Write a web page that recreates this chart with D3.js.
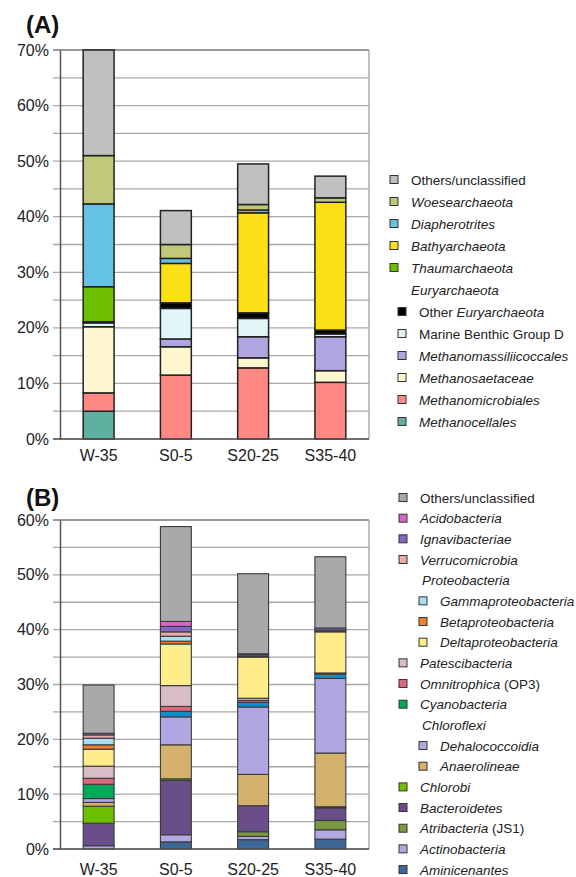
<!DOCTYPE html>
<html>
<head>
<meta charset="utf-8">
<script src="https://cdn.jsdelivr.net/npm/d3@7"></script>
<style>
  body { margin: 0; background: #fff; }
  svg { font-family: "Liberation Sans", Arial, sans-serif; }
</style>
</head>
<body>
<div id="chart"></div>
<script>
'use strict';

// samples (x categories), shared by both panels
var samples = ['W-35', 'S0-5', 'S20-25', 'S35-40'];

// (A) archaea, relative abundance in %, bottom to top
var methanocellales     = [5.0, 0, 0, 0];
var methanomicrobiales  = [3.3, 11.5, 12.8, 10.2];
var methanosaetaceae    = [11.9, 5.1, 1.8, 2.1];
var methanomassilii     = [0, 1.4, 3.8, 6.1];
var marineBenthicD      = [0.7, 5.5, 3.3, 0.5];
var otherEuryarchaeota  = [0.2, 1.0, 1.0, 0.7];
var thaumarchaeota      = [6.3, 0, 0, 0];
var bathyarchaeota      = [0, 7.1, 18.0, 23.0];
var diapherotrites      = [14.9, 0.9, 0.5, 0];
var woesearchaeota      = [8.7, 2.5, 1.0, 0.8];
var othersArchaea       = [19.0, 6.1, 7.3, 3.9];

// (B) bacteria, relative abundance in %, bottom to top
var aminicenantes       = [0, 1.3, 1.7, 1.8];
var actinobacteria      = [0.6, 1.3, 0.6, 1.7];
var atribacteria        = [0, 0, 0.85, 1.7];
var bacteroidetes       = [4.1, 9.9, 4.75, 2.3];
var chlorobi            = [3.1, 0.3, 0, 0.2];
var anaerolineae        = [0.7, 6.2, 5.7, 9.8];
var dehalococcoidia     = [0.7, 5.1, 12.3, 13.6];
var cyanobacteria       = [2.6, 0, 0, 0];
var unlistedBlue        = [0, 1.0, 0.85, 0.8];
var omnitrophica        = [1.1, 0.9, 0.35, 0.2];
var patescibacteria     = [2.2, 3.8, 0.4, 0];
var deltaproteo         = [3.1, 7.6, 7.5, 7.5];
var betaproteo          = [0.8, 0.5, 0, 0];
var gammaproteo         = [1.2, 0.9, 0, 0.1];
var verrucomicrobia     = [0.6, 0.8, 0.2, 0.2];
var ignavibacteriae     = [0.3, 1.0, 0.3, 0.4];
var acidobacteria       = [0, 0.9, 0.1, 0];
var othersBacteria      = [8.8, 17.3, 14.6, 13.0];

var yTicksA = d3.range(0, 71, 5);
var yTicksB = d3.range(0, 61, 5);

// series tables: key, values, fill
var archaea = [
  ['Methanocellales', methanocellales, '#5fb0a0'],
  ['Methanomicrobiales', methanomicrobiales, '#ff8882'],
  ['Methanosaetaceae', methanosaetaceae, '#fff7d0'],
  ['Methanomassiliicoccales', methanomassilii, '#b2a6e2'],
  ['Marine Benthic Group D', marineBenthicD, '#e2f6f8'],
  ['Other Euryarchaeota', otherEuryarchaeota, '#000000'],
  ['Thaumarchaeota', thaumarchaeota, '#6cc000'],
  ['Bathyarchaeota', bathyarchaeota, '#fce016'],
  ['Diapherotrites', diapherotrites, '#66c2e4'],
  ['Woesearchaeota', woesearchaeota, '#c0c87a'],
  ['Others/unclassified', othersArchaea, '#c0c0c0']
];

var bacteria = [
  ['Aminicenantes', aminicenantes, '#3c6898'],
  ['Actinobacteria', actinobacteria, '#b4a8e2'],
  ['Atribacteria', atribacteria, '#7a9a42'],
  ['Bacteroidetes', bacteroidetes, '#6a4e8a'],
  ['Chlorobi', chlorobi, '#6cc000'],
  ['Anaerolineae', anaerolineae, '#d4b26c'],
  ['Dehalococcoidia', dehalococcoidia, '#b2a6e2'],
  ['Cyanobacteria', cyanobacteria, '#00a85a'],
  ['unlisted', unlistedBlue, '#0a90d0'],
  ['Omnitrophica', omnitrophica, '#d86a7c'],
  ['Patescibacteria', patescibacteria, '#d8bcc8'],
  ['Deltaproteobacteria', deltaproteo, '#ffec8a'],
  ['Betaproteobacteria', betaproteo, '#f08032'],
  ['Gammaproteobacteria', gammaproteo, '#aadcf0'],
  ['Verrucomicrobia', verrucomicrobia, '#e8aaaa'],
  ['Ignavibacteriae', ignavibacteriae, '#8266c4'],
  ['Acidobacteria', acidobacteria, '#d866c4'],
  ['Others/unclassified', othersBacteria, '#a9a9a9']
];

// legend rows, top to bottom: [segments, fill or null for a header, indent]
// a segment is [text, italic]
var legendA = [
  [[['Others/unclassified', 0]], '#c0c0c0', 0],
  [[['Woesearchaeota', 1]], '#c0c87a', 0],
  [[['Diapherotrites', 1]], '#66c2e4', 0],
  [[['Bathyarchaeota', 1]], '#fce016', 0],
  [[['Thaumarchaeota', 1]], '#6cc000', 0],
  [[['Euryarchaeota', 1]], null, 0],
  [[['Other ', 0], ['Euryarchaeota', 1]], '#000000', 1],
  [[['Marine Benthic Group D', 0]], '#e2f6f8', 1],
  [[['Methanomassiliicoccales', 1]], '#b2a6e2', 1],
  [[['Methanosaetaceae', 1]], '#fff7d0', 1],
  [[['Methanomicrobiales', 1]], '#ff8882', 1],
  [[['Methanocellales', 1]], '#5fb0a0', 1]
];

var legendB = [
  [[['Others/unclassified', 0]], '#a9a9a9', 0],
  [[['Acidobacteria', 1]], '#d866c4', 0],
  [[['Ignavibacteriae', 1]], '#8266c4', 0],
  [[['Verrucomicrobia', 1]], '#e8aaaa', 0],
  [[['Proteobacteria', 1]], null, 0],
  [[['Gammaproteobacteria', 1]], '#aadcf0', 1],
  [[['Betaproteobacteria', 1]], '#f08032', 1],
  [[['Deltaproteobacteria', 1]], '#ffec8a', 1],
  [[['Patescibacteria', 1]], '#d8bcc8', 0],
  [[['Omnitrophica', 1], [' (OP3)', 0]], '#d86a7c', 0],
  [[['Cyanobacteria', 1]], '#00a85a', 0],
  [[['Chloroflexi', 1]], null, 0],
  [[['Dehalococcoidia', 1]], '#b2a6e2', 1],
  [[['Anaerolineae', 1]], '#d4b26c', 1],
  [[['Chlorobi', 1]], '#6cc000', 0],
  [[['Bacteroidetes', 1]], '#6a4e8a', 0],
  [[['Atribacteria', 1], [' (JS1)', 0]], '#7a9a42', 0],
  [[['Actinobacteria', 1]], '#b4a8e2', 0],
  [[['Aminicenantes', 1]], '#3c6898', 0]
];

var width = 576;
var height = 877;

var svg = d3.select('#chart')
            .append('svg')
            .attr('width', width)
            .attr('height', height);

// draws one stacked bar panel
var drawPanel = function(opts){
  var g = svg.append('g');
  var x = d3.scaleBand().domain(samples).range([opts.left, opts.right]).paddingInner(0.6).paddingOuter(0.3);
  var y = d3.scaleLinear().domain([0, opts.max]).range([opts.bottom, opts.top]);

  // gridlines every 5%
  g.append('g')
   .selectAll('line').data(opts.ticks)
   .enter().append('line')
   .attr('x1', opts.left - 7)
   .attr('x2', opts.right)
   .attr('y1', function(d){ return y(d); })
   .attr('y2', function(d){ return y(d); })
   .attr('stroke', function(d){ return d === opts.max ? '#777' : '#a8a8a8'; })
   .attr('stroke-width', 1.3);

  // right border
  g.append('line')
   .attr('x1', opts.right).attr('x2', opts.right)
   .attr('y1', opts.top).attr('y2', opts.bottom)
   .attr('stroke', '#a0a0a0').attr('stroke-width', 1.3);

  // stacked bars
  var keys = opts.series.map(function(s){ return s[0]; });
  var rows = samples.map(function(name, i){
    var row = { sample: name };
    opts.series.forEach(function(s){ row[s[0]] = s[1][i]; });
    return row;
  });
  var stacked = d3.stack().keys(keys)(rows);

  stacked.forEach(function(layer, li){
    g.append('g')
     .selectAll('rect')
     .data(layer.filter(function(d){ return d[1] - d[0] > 0; }))
     .enter().append('rect')
     .attr('x', function(d){ return x(d.data.sample); })
     .attr('width', x.bandwidth())
     .attr('y', function(d){ return y(d[1]); })
     .attr('height', function(d){ return y(d[0]) - y(d[1]); })
     .attr('fill', opts.series[li][2])
     .attr('stroke', opts.barStroke)
     .attr('stroke-width', opts.barStrokeWidth);
  });

  // y axis
  var axis = d3.axisLeft(y)
               .tickValues(opts.ticks)
               .tickSize(0)
               .tickPadding(11)
               .tickFormat(function(d){ return d % 10 === 0 ? d + '%' : ''; });
  var ga = g.append('g').attr('transform', 'translate(' + opts.left + ',0)').call(axis);
  ga.select('.domain').attr('stroke', '#555').attr('stroke-width', 1.5);
  ga.selectAll('text').attr('font-size', 16).attr('fill', '#222')
    .attr('font-family', '"Liberation Sans", Arial, sans-serif');

  // baseline
  g.append('line')
   .attr('x1', opts.left - 7).attr('x2', opts.right)
   .attr('y1', y(0)).attr('y2', y(0))
   .attr('stroke', '#555').attr('stroke-width', 1.5);

  // x labels
  g.append('g')
   .selectAll('text').data(samples)
   .enter().append('text')
   .attr('x', function(d){ return x(d) + x.bandwidth() / 2; })
   .attr('y', opts.labelY)
   .attr('text-anchor', 'middle')
   .attr('font-size', 16)
   .attr('fill', '#222')
   .text(function(d){ return d; });

  // panel tag
  svg.append('text')
     .attr('x', 26)
     .attr('y', opts.tagY)
     .attr('font-size', 24)
     .attr('font-weight', 'bold')
     .attr('fill', '#111')
     .text(opts.tag);

  // legend
  var lg = svg.append('g');
  opts.legend.forEach(function(item, i){
    var cy = opts.legendTop + i * opts.legendStep;
    var indent = item[2] * opts.indent;
    if(item[1]){
      lg.append('rect')
        .attr('x', opts.squareX + indent)
        .attr('y', cy - 4)
        .attr('width', 8)
        .attr('height', 8)
        .attr('fill', item[1])
        .attr('stroke', '#333')
        .attr('stroke-width', 1);
    }
    var t = lg.append('text')
              .attr('x', opts.textX + indent + (item[1] ? 0 : opts.headerShift))
              .attr('y', cy + 5)
              .attr('font-size', 13.5)
              .attr('fill', '#222');
    item[0].forEach(function(seg){
      t.append('tspan')
       .attr('font-style', seg[1] ? 'italic' : 'normal')
       .text(seg[0]);
    });
  });
};

drawPanel({
  tag: '(A)', tagY: 33,
  series: archaea, max: 70, ticks: yTicksA,
  left: 60, right: 369, top: 50, bottom: 439,
  labelY: 461,
  barStroke: '#222', barStrokeWidth: 1.5,
  legend: legendA, legendTop: 179.5, legendStep: 22,
  squareX: 390, textX: 411, indent: 8, headerShift: 0
});

drawPanel({
  tag: '(B)', tagY: 506,
  series: bacteria, max: 60, ticks: yTicksB,
  left: 60, right: 369, top: 520, bottom: 849,
  labelY: 875,
  barStroke: '#3a3a3a', barStrokeWidth: 1.1,
  legend: legendB, legendTop: 497.5, legendStep: 20.67,
  squareX: 399, textX: 420, indent: 20, headerShift: 2
});
</script>
</body>
</html>
